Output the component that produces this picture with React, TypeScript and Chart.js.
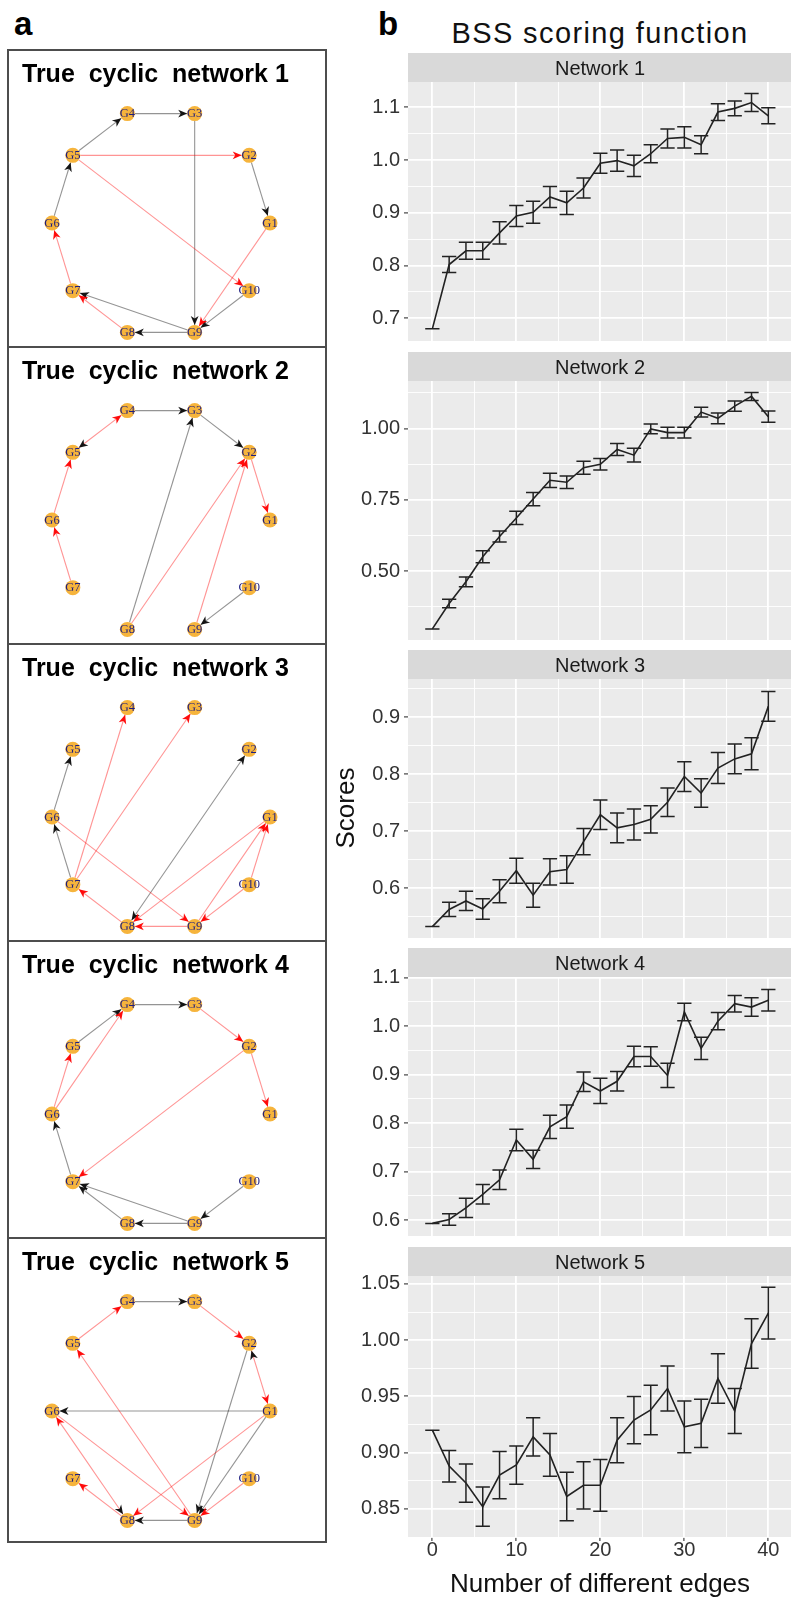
import React, { useEffect, useRef } from "react";
import { Chart, registerables } from "chart.js";

Chart.register(...registerables);

const SANS = '"Liberation Sans", Arial, Helvetica, sans-serif';
const SERIF = '"Liberation Serif", "Times New Roman", Times, serif';

// ---------- data (right: BSS scores) ----------
const EDGE_COUNTS = [0, 2, 4, 6, 8, 10, 12, 14, 16, 18, 20, 22, 24, 26, 28, 30, 32, 34, 36, 38, 40];

const NET1_SCORE = [0.680, 0.802, 0.828, 0.828, 0.862, 0.894, 0.901, 0.930, 0.919, 0.947, 0.994, 0.999, 0.989, 1.012, 1.041, 1.043, 1.029, 1.091, 1.098, 1.109, 1.084];
const NET1_ERR = [0, 0.015, 0.016, 0.016, 0.021, 0.020, 0.021, 0.020, 0.022, 0.019, 0.019, 0.020, 0.020, 0.017, 0.018, 0.020, 0.017, 0.016, 0.014, 0.017, 0.015];

const NET2_SCORE = [0.298, 0.387, 0.463, 0.551, 0.622, 0.687, 0.753, 0.819, 0.812, 0.863, 0.875, 0.927, 0.907, 0.999, 0.986, 0.986, 1.058, 1.036, 1.079, 1.113, 1.042];
const NET2_ERR = [0, 0.015, 0.017, 0.021, 0.019, 0.023, 0.023, 0.025, 0.022, 0.023, 0.020, 0.021, 0.024, 0.017, 0.019, 0.019, 0.017, 0.019, 0.018, 0.014, 0.020];

const NET3_SCORE = [0.533, 0.563, 0.578, 0.564, 0.595, 0.631, 0.588, 0.629, 0.633, 0.682, 0.729, 0.706, 0.712, 0.721, 0.751, 0.796, 0.767, 0.811, 0.827, 0.836, 0.919];
const NET3_ERR = [0, 0.0125, 0.017, 0.018, 0.020, 0.022, 0.021, 0.023, 0.024, 0.023, 0.026, 0.026, 0.027, 0.024, 0.025, 0.026, 0.025, 0.027, 0.026, 0.028, 0.026];

const NET4_SCORE = [0.593, 0.601, 0.625, 0.653, 0.683, 0.765, 0.725, 0.792, 0.813, 0.885, 0.866, 0.886, 0.937, 0.937, 0.898, 1.029, 0.954, 1.010, 1.046, 1.039, 1.053];
const NET4_ERR = [0, 0.012, 0.020, 0.020, 0.020, 0.022, 0.019, 0.024, 0.024, 0.020, 0.026, 0.020, 0.021, 0.020, 0.025, 0.018, 0.023, 0.018, 0.017, 0.019, 0.022];

const NET5_SCORE = [0.920, 0.888, 0.873, 0.852, 0.880, 0.889, 0.914, 0.898, 0.861, 0.871, 0.871, 0.911, 0.929, 0.938, 0.957, 0.923, 0.926, 0.966, 0.937, 0.997, 1.024];
const NET5_ERR = [0, 0.014, 0.017, 0.0175, 0.021, 0.017, 0.017, 0.019, 0.0215, 0.021, 0.023, 0.020, 0.021, 0.022, 0.020, 0.023, 0.0215, 0.022, 0.020, 0.022, 0.023];

const PANEL_TITLES = ["Network 1", "Network 2", "Network 3", "Network 4", "Network 5"];
const Y_MIN = [0.657, 0.259, 0.513, 0.567, 0.825];
const Y_MAX = [1.148, 1.167, 0.967, 1.101, 1.057];
const Y_STEP = [0.05, 0.125, 0.05, 0.05, 0.025];
const Y_MAJOR = [0.1, 0.25, 0.1, 0.1, 0.05];
const Y_DECIMALS = [1, 2, 1, 1, 2];
const X_MIN = -2.9;
const X_MAX = 42.7;
const X_STEP = 5;
const X_MAJOR = 10;

// ---------- data (left: networks) ----------
const NETWORK_TITLES = ["True  cyclic  network 1", "True  cyclic  network 2", "True  cyclic  network 3", "True  cyclic  network 4", "True  cyclic  network 5"];
const NODE_NAMES = ["G1", "G2", "G3", "G4", "G5", "G6", "G7", "G8", "G9", "G10"];
const NODE_X = [1, 0.809, 0.309, -0.309, -0.809, -1, -0.809, -0.309, 0.309, 0.809];
const NODE_Y = [0, 0.588, 0.951, 0.951, 0.588, 0, -0.588, -0.951, -0.951, -0.588];

const NET1_BLACK = [[4, 3], [5, 4], [6, 5], [2, 1], [3, 9], [10, 9], [9, 7], [9, 8]];
const NET1_RED = [[5, 2], [5, 10], [1, 9], [8, 7], [7, 6]];
const NET2_BLACK = [[4, 3], [3, 2], [4, 5], [8, 3], [10, 9]];
const NET2_RED = [[5, 4], [6, 5], [7, 6], [8, 2], [9, 2], [2, 1]];
const NET3_BLACK = [[6, 5], [7, 6], [8, 2], [2, 8]];
const NET3_RED = [[7, 4], [7, 3], [6, 9], [1, 8], [9, 1], [10, 1], [10, 9], [9, 8], [8, 7]];
const NET4_BLACK = [[4, 3], [5, 4], [7, 6], [8, 7], [9, 7], [9, 8], [10, 9]];
const NET4_RED = [[3, 2], [2, 1], [6, 4], [6, 5], [2, 7]];
const NET5_BLACK = [[4, 3], [1, 2], [1, 6], [2, 9], [1, 9], [6, 8], [9, 8]];
const NET5_RED = [[3, 2], [5, 4], [2, 1], [1, 8], [10, 9], [9, 5], [6, 9], [8, 6], [8, 7]];

const SCORES = [NET1_SCORE, NET2_SCORE, NET3_SCORE, NET4_SCORE, NET5_SCORE];
const ERRS = [NET1_ERR, NET2_ERR, NET3_ERR, NET4_ERR, NET5_ERR];
const BLACK_EDGES = [NET1_BLACK, NET2_BLACK, NET3_BLACK, NET4_BLACK, NET5_BLACK];
const RED_EDGES = [NET1_RED, NET2_RED, NET3_RED, NET4_RED, NET5_RED];

// ---------- layout ----------
const STRIP_TOPS = [53, 352, 650, 948, 1247];
const STRIP_H = 29;
const PLOT_H = 261;
const BOX_TOPS = [50, 347, 644, 941, 1238];
const BOX_BOTTOM = 1542;
const LINE_COLOR = "#222222";

const isMajor = (v: number, step: number) => Math.abs(v / step - Math.round(v / step)) < 1e-6;

function ScoreChart({ idx }: { idx: number }) {
  const ref = useRef<HTMLCanvasElement | null>(null);
  const last = idx === 4;
  const padTop = 14 + STRIP_H;
  const padBottom = last ? 0 : 14;
  const xAxisH = last ? 34 : 0;
  const height = padTop + PLOT_H + padBottom + xAxisH;
  const top = STRIP_TOPS[idx] - 14;

  useEffect(() => {
    if (!ref.current) return;
    const vals = SCORES[idx];
    const errs = ERRS[idx];
    const facetPlugin = {
      id: "facet" + idx,
      beforeDraw(chart: any) {
        const { ctx, chartArea: a } = chart;
        ctx.save();
        ctx.fillStyle = "#EBEBEB";
        ctx.fillRect(a.left, a.top, a.right - a.left, a.bottom - a.top);
        ctx.fillStyle = "#D9D9D9";
        ctx.fillRect(a.left, a.top - STRIP_H, a.right - a.left, STRIP_H);
        ctx.fillStyle = "#1A1A1A";
        ctx.font = `20px ${SANS}`;
        ctx.textAlign = "center";
        ctx.textBaseline = "alphabetic";
        ctx.fillText(PANEL_TITLES[idx], (a.left + a.right) / 2 + 0.5, a.top - STRIP_H + 22);
        ctx.restore();
      },
      afterDatasetsDraw(chart: any) {
        const { ctx } = chart;
        const x = chart.scales.x;
        const y = chart.scales.y;
        ctx.save();
        ctx.strokeStyle = LINE_COLOR;
        ctx.lineWidth = 1.5;
        EDGE_COUNTS.forEach((c, i) => {
          const px = x.getPixelForValue(c);
          const hw = x.getPixelForValue(c + 0.85) - px;
          const hi = y.getPixelForValue(vals[i] + errs[i]);
          const lo = y.getPixelForValue(vals[i] - errs[i]);
          ctx.beginPath();
          ctx.moveTo(px, hi);
          ctx.lineTo(px, lo);
          ctx.moveTo(px - hw, hi);
          ctx.lineTo(px + hw, hi);
          ctx.moveTo(px - hw, lo);
          ctx.lineTo(px + hw, lo);
          ctx.stroke();
        });
        ctx.restore();
      },
    };

    const chart = new Chart(ref.current, {
      type: "line",
      data: {
        datasets: [
          {
            data: EDGE_COUNTS.map((c, i) => ({ x: c, y: vals[i] })),
            borderColor: LINE_COLOR,
            borderWidth: 1.6,
            pointRadius: 0,
            tension: 0,
            fill: false,
          },
        ],
      },
      options: {
        animation: false,
        responsive: false,
        maintainAspectRatio: false,
        events: [],
        layout: { autoPadding: false, padding: { top: padTop, bottom: padBottom, left: 0, right: 0 } },
        plugins: { legend: { display: false }, tooltip: { enabled: false }, title: { display: false } },
        scales: {
          x: {
            type: "linear",
            min: X_MIN,
            max: X_MAX,
            afterFit: (s: any) => {
              s.height = xAxisH;
            },
            border: { display: false },
            grid: {
              color: "#FFFFFF",
              lineWidth: (c: any) => (c.tick && isMajor(c.tick.value, X_MAJOR) ? 1.8 : 0.9),
              drawTicks: last,
              tickLength: 4,
              tickWidth: 1.1,
              tickColor: (c: any) => (c.tick && isMajor(c.tick.value, X_MAJOR) ? "#333333" : "rgba(0,0,0,0)"),
            },
            ticks: {
              display: last,
              stepSize: X_STEP,
              includeBounds: false,
              autoSkip: false,
              maxRotation: 0,
              padding: -3,
              color: "#333333",
              font: { family: SANS, size: 20 },
              callback: (v: any) => (isMajor(Number(v), X_MAJOR) ? String(Math.round(Number(v))) : ""),
            },
          },
          y: {
            type: "linear",
            min: Y_MIN[idx],
            max: Y_MAX[idx],
            afterFit: (s: any) => {
              s.width = 78;
            },
            border: { display: false },
            grid: {
              color: "#FFFFFF",
              lineWidth: (c: any) => (c.tick && isMajor(c.tick.value, Y_MAJOR[idx]) ? 1.8 : 0.9),
              drawTicks: true,
              tickLength: 4,
              tickWidth: 1.1,
              tickColor: (c: any) => (c.tick && isMajor(c.tick.value, Y_MAJOR[idx]) ? "#333333" : "rgba(0,0,0,0)"),
            },
            ticks: {
              stepSize: Y_STEP[idx],
              includeBounds: false,
              autoSkip: false,
              padding: 4,
              color: "#333333",
              font: { family: SANS, size: 20 },
              callback: (v: any) => (isMajor(Number(v), Y_MAJOR[idx]) ? Number(v).toFixed(Y_DECIMALS[idx]) : ""),
            },
          },
        },
      } as any,
      plugins: [facetPlugin as any],
    });
    return () => chart.destroy();
  }, [idx]);

  return (
    <canvas
      ref={ref}
      width={461}
      height={height}
      style={{ position: "absolute", left: 330, top, width: 461, height }}
    />
  );
}

const NODE_R = 7.5;

function edgeGeom(x1: number, y1: number, x2: number, y2: number) {
  const dx = x2 - x1;
  const dy = y2 - y1;
  const L = Math.hypot(dx, dy);
  const ux = dx / L;
  const uy = dy / L;
  return { ux, uy, sx: x1 + ux * NODE_R, sy: y1 + uy * NODE_R, tx: x2 - ux * NODE_R, ty: y2 - uy * NODE_R };
}

function drawEdgeLine(ctx: any, x1: number, y1: number, x2: number, y2: number, color: string) {
  const g = edgeGeom(x1, y1, x2, y2);
  ctx.strokeStyle = color;
  ctx.lineWidth = 1.1;
  ctx.beginPath();
  ctx.moveTo(g.sx, g.sy);
  ctx.lineTo(g.tx, g.ty);
  ctx.stroke();
}

function drawEdgeHead(ctx: any, x1: number, y1: number, x2: number, y2: number, color: string) {
  const g = edgeGeom(x1, y1, x2, y2);
  const len = 9;
  const hw = 3.9;
  const bx = g.tx - g.ux * len;
  const by = g.ty - g.uy * len;
  const px = -g.uy;
  const py = g.ux;
  ctx.fillStyle = color;
  ctx.beginPath();
  ctx.moveTo(g.tx, g.ty);
  ctx.lineTo(bx + px * hw, by + py * hw);
  ctx.lineTo(g.tx - g.ux * len * 0.72, g.ty - g.uy * len * 0.72);
  ctx.lineTo(bx - px * hw, by - py * hw);
  ctx.closePath();
  ctx.fill();
}

function NetworkChart({ idx }: { idx: number }) {
  const ref = useRef<HTMLCanvasElement | null>(null);
  useEffect(() => {
    if (!ref.current) return;
    const edgePlugin = {
      id: "edges" + idx,
      beforeDatasetsDraw(chart: any) {
        const { ctx } = chart;
        const x = chart.scales.x;
        const y = chart.scales.y;
        const px = (n: number) => x.getPixelForValue(NODE_X[n - 1]);
        const py = (n: number) => y.getPixelForValue(NODE_Y[n - 1]);
        const key = (a: number, b: number) => (a < b ? a + "-" + b : b + "-" + a);
        const redKeys = new Set(RED_EDGES[idx].map(([a, b]) => key(a, b)));
        const drawn = new Set<string>();
        ctx.save();
        BLACK_EDGES[idx].forEach(([a, b]) => {
          const k = key(a, b);
          if (redKeys.has(k) || drawn.has(k)) return;
          drawn.add(k);
          drawEdgeLine(ctx, px(a), py(a), px(b), py(b), "rgba(0,0,0,0.42)");
        });
        RED_EDGES[idx].forEach(([a, b]) => {
          const k = key(a, b);
          if (drawn.has(k)) return;
          drawn.add(k);
          drawEdgeLine(ctx, px(a), py(a), px(b), py(b), "rgba(255,0,0,0.42)");
        });
        BLACK_EDGES[idx].forEach(([a, b]) => drawEdgeHead(ctx, px(a), py(a), px(b), py(b), "rgba(10,10,10,0.95)"));
        RED_EDGES[idx].forEach(([a, b]) => drawEdgeHead(ctx, px(a), py(a), px(b), py(b), "rgba(255,0,0,0.95)"));
        ctx.restore();
      },
      afterDatasetsDraw(chart: any) {
        const { ctx } = chart;
        const x = chart.scales.x;
        const y = chart.scales.y;
        ctx.save();
        ctx.font = `12.5px ${SERIF}`;
        ctx.textAlign = "center";
        ctx.textBaseline = "middle";
        ctx.fillStyle = "#1E1E80";
        NODE_NAMES.forEach((name, i) => {
          ctx.fillText(name, x.getPixelForValue(NODE_X[i]), y.getPixelForValue(NODE_Y[i]) + 0.5);
        });
        ctx.restore();
      },
    };
    const chart = new Chart(ref.current, {
      type: "scatter",
      data: {
        datasets: [
          {
            data: NODE_X.map((v, i) => ({ x: v, y: NODE_Y[i] })),
            pointRadius: NODE_R,
            pointBackgroundColor: "#F6B43C",
            pointBorderWidth: 0,
            showLine: false,
          },
        ],
      },
      options: {
        animation: false,
        responsive: false,
        maintainAspectRatio: false,
        events: [],
        layout: { autoPadding: false, padding: 0 },
        plugins: { legend: { display: false }, tooltip: { enabled: false } },
        scales: {
          x: { type: "linear", display: false, min: -1.4037, max: 1.5138 },
          y: { type: "linear", display: false, min: -1.078, max: 1.504 },
        },
      } as any,
      plugins: [edgePlugin as any],
    });
    return () => chart.destroy();
  }, [idx]);

  const top = BOX_TOPS[idx];
  const next = idx < 4 ? BOX_TOPS[idx + 1] : BOX_BOTTOM;
  return (
    <>
      <div
        style={{
          position: "absolute",
          left: 7,
          top: top - 1,
          width: 320,
          height: next - top + 2,
          border: "2px solid #4D4D4D",
          boxSizing: "border-box",
        }}
      />
      <canvas
        ref={ref}
        width={318}
        height={297}
        style={{ position: "absolute", left: 8, top, width: 318, height: 297 }}
      />
      <div
        style={{
          position: "absolute",
          left: 22,
          top: top + 11.3,
          fontFamily: SANS,
          fontWeight: "bold",
          fontSize: 25,
          lineHeight: "25px",
          whiteSpace: "pre",
          color: "#000",
        }}
      >
        {NETWORK_TITLES[idx]}
      </div>
    </>
  );
}

export default function App() {
  return (
    <div
      style={{
        position: "absolute",
        left: 0,
        top: 0,
        width: 791,
        height: 1601,
        background: "#FFFFFF",
        overflow: "hidden",
        fontFamily: SANS,
      }}
    >
      <div style={{ position: "absolute", left: 14, top: 7, fontSize: 33, lineHeight: "33px", fontWeight: "bold" }}>a</div>
      <div style={{ position: "absolute", left: 378, top: 7, fontSize: 33, lineHeight: "33px", fontWeight: "bold" }}>b</div>
      <div
        style={{
          position: "absolute",
          left: 400,
          width: 400,
          top: 18.5,
          fontSize: 29,
          lineHeight: "29px",
          letterSpacing: "1.4px",
          textAlign: "center",
          color: "#111",
        }}
      >
        BSS scoring function
      </div>
      {[0, 1, 2, 3, 4].map((i) => (
        <NetworkChart key={"n" + i} idx={i} />
      ))}
      {[0, 1, 2, 3, 4].map((i) => (
        <ScoreChart key={"s" + i} idx={i} />
      ))}
      <div
        style={{
          position: "absolute",
          left: 285,
          top: 793,
          width: 120,
          height: 30,
          lineHeight: "30px",
          fontSize: 26,
          textAlign: "center",
          transform: "rotate(-90deg)",
          color: "#111",
        }}
      >
        Scores
      </div>
      <div
        style={{
          position: "absolute",
          left: 400,
          width: 400,
          top: 1569.7,
          fontSize: 26,
          lineHeight: "26px",
          textAlign: "center",
          color: "#111",
        }}
      >
        Number of different edges
      </div>
    </div>
  );
}
